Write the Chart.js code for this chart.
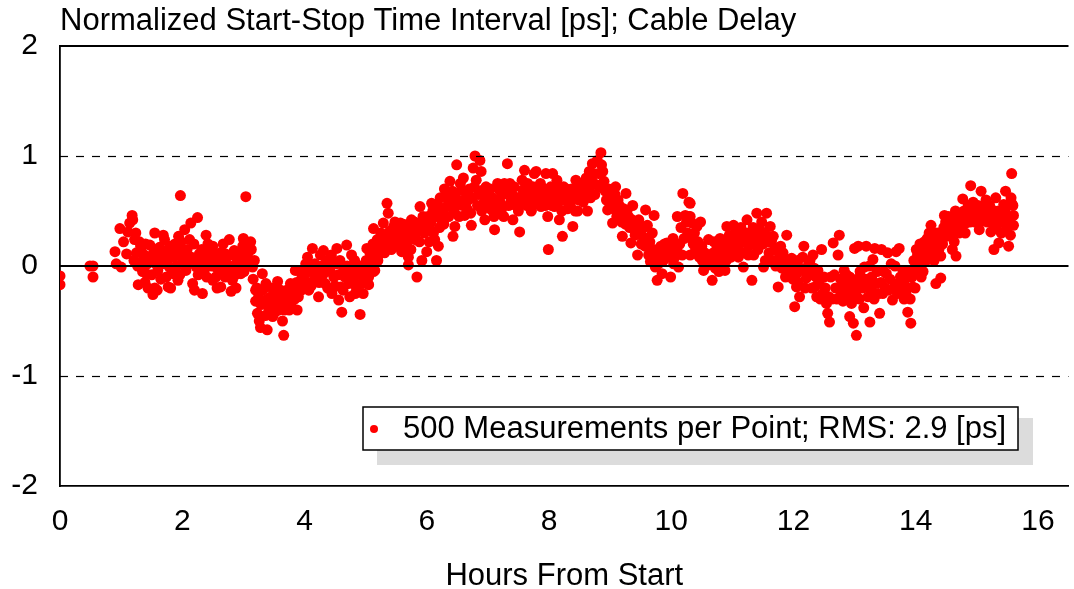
<!DOCTYPE html>
<html>
<head>
<meta charset="utf-8">
<script src="https://cdn.jsdelivr.net/npm/chart.js@4"></script>
<style>
  html, body { margin: 0; padding: 0; background: #fff; }
  #wrap { width: 1074px; height: 589px; }
</style>
</head>
<body>
<div id="wrap"><canvas id="myChart" width="1074" height="589"></canvas></div>
<script>
// chart texts
var chartTitle = 'Normalized Start-Stop Time Interval [ps]; Cable Delay';
var xTitle = 'Hours From Start';
var legendLabel = '500 Measurements per Point; RMS: 2.9 [ps]';

// axis ranges / ticks
var xMin = 0, xMax = 16.5, xStep = 2;
var yMin = -2, yMax = 2, yStep = 1;
var dashedLevels = [1, -1];
var solidLevels = [0];

// [hours, ps], one list per stretch of the run
var pts0to2 = [
  [0.00,-0.09],[0.00,-0.17],[0.49,0.00],[0.54,0.00],[0.54,-0.10],
  [0.90,0.13],[0.92,0.02],[1.00,-0.01],[0.98,0.34],[1.04,0.22],[1.09,0.11],
  [1.11,0.31],[1.14,0.39],[1.18,0.46],[1.19,0.42],[1.22,0.24],[1.28,-0.17],
  [1.30,0.22],[1.33,0.13],[1.36,0.05],[1.41,-0.07],[1.44,-0.20],[1.47,0.19],
  [1.49,0.08],[1.52,-0.26],[1.55,-0.20],[1.55,0.30],[1.57,0.02],[1.63,0.17],
  [1.66,0.07],[1.71,0.24],[1.74,-0.10],[1.77,-0.19],[1.79,-0.01],[1.82,0.11],
  [1.85,-0.07],[1.90,0.14],[1.93,-0.13],[1.97,0.64],[1.98,0.22],
  [1.21,0.05],[1.25,0.12],[1.27,0.00],[1.32,0.18],[1.35,-0.05],[1.38,0.10],
  [1.40,0.20],[1.43,0.02],[1.46,0.08],[1.50,-0.08],[1.53,0.12],[1.58,0.15],
  [1.60,-0.04],[1.62,0.06],[1.65,-0.12],[1.68,0.14],[1.70,0.02],[1.73,0.10],
  [1.76,0.05],[1.80,0.18],[1.83,-0.03],[1.86,0.08],[1.88,0.20],[1.91,0.00],
  [1.95,0.10],[1.96,-0.08],[1.99,0.15],
  [1.24,0.30],[1.39,-0.15],[1.59,-0.22],[1.69,0.28],[1.81,-0.20],[1.94,0.27]
];
var pts2to4 = [
  [2.01,0.05],[2.04,0.33],[2.06,-0.04],[2.12,0.24],[2.14,0.39],[2.17,-0.16],
  [2.23,-0.01],[2.25,0.44],[2.28,0.11],[2.33,-0.25],[2.36,-0.04],[2.42,0.20],
  [2.44,0.05],[2.50,-0.13],[2.50,0.18],[2.52,0.11],[2.55,-0.01],[2.55,0.10],
  [2.55,-0.10],[2.63,-0.19],[2.66,-0.01],[2.71,0.11],[2.77,0.24],[2.80,-0.23],
  [2.82,-0.13],[2.85,0.14],[2.90,0.05],[2.96,-0.07],[2.99,0.18],[3.04,0.63],
  [3.07,0.11],[3.12,0.22],[3.15,-0.01],[3.18,0.05],[3.20,-0.22],[3.20,-0.32],
  [3.23,-0.43],[3.26,-0.50],[3.28,-0.56],[3.31,-0.07],[3.34,-0.34],[3.37,-0.16],
  [3.39,-0.58],[3.42,-0.40],[3.45,-0.28],[3.48,-0.46],[3.53,-0.34],[3.56,-0.14],
  [3.58,-0.40],[3.61,-0.22],[3.64,-0.50],[3.66,-0.63],[3.69,-0.31],[3.75,-0.40],
  [3.77,-0.16],[3.80,-0.28],[3.85,-0.04],[3.88,-0.40],[3.91,-0.19],[3.96,-0.10],
  [2.03,0.10],[2.08,0.15],[2.10,0.02],[2.15,0.08],[2.19,0.20],[2.21,0.05],
  [2.26,-0.08],[2.30,0.05],[2.32,0.15],[2.35,0.00],[2.38,0.08],[2.40,-0.10],
  [2.46,0.12],[2.48,0.00],[2.58,0.05],[2.60,-0.05],[2.62,0.12],[2.68,0.06],
  [2.70,-0.10],[2.73,0.02],[2.75,-0.05],[2.79,0.10],[2.84,0.00],[2.87,-0.08],
  [2.92,0.12],[2.94,-0.02],[2.98,0.05],[3.01,-0.05],[3.03,0.10],[3.09,0.02],
  [3.13,0.15],[3.16,-0.12],[3.22,-0.20],[3.25,-0.28],[3.29,-0.35],[3.32,-0.22],
  [3.36,-0.45],[3.40,-0.30],[3.44,-0.38],[3.47,-0.20],[3.50,-0.28],[3.52,-0.42],
  [3.55,-0.30],[3.60,-0.35],[3.63,-0.25],[3.67,-0.40],[3.71,-0.22],[3.73,-0.33],
  [3.78,-0.36],[3.82,-0.22],[3.84,-0.30],[3.87,-0.15],[3.90,-0.28],[3.93,-0.05],
  [3.95,-0.22],[3.98,-0.15],
  [2.20,-0.22],[2.39,0.28],[2.57,-0.20],[2.67,0.20],[2.88,-0.20],[3.00,0.25]
];
var pts4to6 = [
  [4.02,0.02],[4.07,-0.22],[4.13,0.16],[4.15,-0.13],[4.21,-0.04],[4.23,-0.28],
  [4.26,0.10],[4.31,0.14],[4.34,-0.16],[4.40,0.02],[4.45,-0.25],[4.48,-0.10],
  [4.53,0.16],[4.56,-0.31],[4.59,-0.19],[4.61,-0.42],[4.64,-0.04],[4.69,0.19],
  [4.72,-0.16],[4.77,0.10],[4.83,-0.25],[4.86,-0.04],[4.91,-0.44],[4.94,-0.16],
  [4.99,0.02],[5.02,0.16],[5.05,-0.10],[5.05,-0.17],[5.10,0.08],[5.10,0.12],
  [5.13,0.34],[5.13,-0.05],[5.15,-0.04],[5.18,0.22],[5.19,0.24],[5.21,0.10],
  [5.27,0.16],[5.29,0.39],[5.35,0.57],[5.37,0.48],[5.43,0.24],[5.46,0.36],
  [5.51,0.18],[5.57,0.39],[5.59,0.13],[5.65,0.30],[5.70,0.08],[5.70,0.01],
  [5.75,0.42],[5.81,0.24],[5.84,-0.10],[5.86,0.33],[5.89,0.54],[5.92,0.05],
  [5.94,0.45],
  [4.00,-0.08],[4.04,-0.15],[4.05,0.08],[4.09,-0.05],[4.11,-0.18],[4.17,0.02],
  [4.19,-0.08],[4.24,-0.15],[4.28,0.00],[4.30,-0.08],[4.36,0.05],[4.38,-0.20],
  [4.42,-0.05],[4.44,0.10],[4.50,-0.18],[4.52,0.02],[4.55,-0.08],[4.58,0.05],
  [4.63,-0.22],[4.66,-0.10],[4.70,0.00],[4.74,-0.28],[4.76,-0.05],[4.80,-0.12],
  [4.82,0.05],[4.85,-0.20],[4.89,0.00],[4.92,-0.08],[4.96,-0.25],[4.98,-0.05],
  [5.01,0.05],[5.04,0.00],[5.07,0.12],[5.08,0.02],[5.12,0.20],[5.16,0.15],
  [5.20,0.05],[5.23,0.18],[5.25,0.30],[5.28,0.22],[5.31,0.12],[5.33,0.28],
  [5.38,0.20],[5.40,0.32],[5.42,0.15],[5.45,0.26],[5.48,0.40],[5.50,0.30],
  [5.53,0.22],[5.55,0.33],[5.60,0.25],[5.62,0.38],[5.67,0.20],[5.68,0.35],
  [5.72,0.28],[5.74,0.15],[5.78,0.35],[5.80,0.40],[5.83,0.30],[5.88,0.22],
  [5.91,0.38],[5.96,0.30],[5.98,0.42]
];
var pts6to8 = [
  [6.00,0.13],[6.05,0.34],[6.08,0.57],[6.13,0.24],[6.16,0.05],[6.19,0.18],
  [6.24,0.42],[6.29,0.70],[6.32,0.54],[6.38,0.77],[6.43,0.27],[6.46,0.36],
  [6.49,0.92],[6.51,0.57],[6.57,0.69],[6.62,0.46],[6.68,0.60],[6.73,0.37],
  [6.76,0.89],[6.79,1.00],[6.81,0.78],[6.87,0.96],[6.89,0.86],[6.92,0.69],
  [6.95,0.42],[7.00,0.63],[7.06,0.51],[7.11,0.33],[7.14,0.60],[7.19,0.69],
  [7.22,0.51],[7.27,0.75],[7.32,0.93],[7.38,0.60],[7.41,0.42],[7.46,0.55],
  [7.52,0.31],[7.57,0.69],[7.60,0.87],[7.65,0.75],[7.71,0.50],[7.71,0.51],
  [7.76,0.84],[7.79,0.66],[7.79,0.86],[7.84,0.69],[7.87,0.54],[7.95,0.84],
  [7.98,0.45],[7.99,0.15],
  [6.02,0.45],[6.04,0.22],[6.07,0.40],[6.10,0.50],[6.11,0.30],[6.15,0.45],
  [6.18,0.55],[6.21,0.35],[6.22,0.62],[6.26,0.50],[6.28,0.38],[6.31,0.45],
  [6.34,0.62],[6.36,0.45],[6.40,0.55],[6.42,0.68],[6.45,0.50],[6.48,0.62],
  [6.53,0.45],[6.55,0.75],[6.59,0.55],[6.60,0.80],[6.64,0.62],[6.66,0.52],
  [6.70,0.70],[6.72,0.48],[6.75,0.62],[6.78,0.72],[6.83,0.55],[6.85,0.65],
  [6.90,0.50],[6.94,0.58],[6.97,0.72],[7.02,0.55],[7.04,0.70],[7.08,0.62],
  [7.10,0.45],[7.13,0.52],[7.16,0.75],[7.20,0.58],[7.24,0.65],[7.26,0.45],
  [7.30,0.68],[7.34,0.55],[7.36,0.75],[7.40,0.65],[7.43,0.72],[7.48,0.62],
  [7.50,0.50],[7.54,0.58],[7.56,0.78],[7.62,0.62],[7.64,0.55],[7.68,0.70],
  [7.70,0.62],[7.74,0.72],[7.78,0.58],[7.82,0.62],[7.86,0.75],[7.89,0.62],
  [7.92,0.70],[7.94,0.55],[7.97,0.65]
];
var pts8to10 = [
  [8.06,0.84],[8.09,0.54],[8.14,0.71],[8.17,0.42],[8.22,0.27],[8.25,0.63],
  [8.30,0.52],[8.39,0.36],[8.44,0.78],[8.47,0.50],[8.52,0.64],[8.58,0.74],
  [8.63,0.50],[8.66,0.86],[8.71,0.93],[8.77,0.74],[8.79,0.96],[8.85,1.03],
  [8.88,0.86],[8.90,0.77],[8.96,0.51],[9.01,0.69],[9.04,0.39],[9.09,0.72],
  [9.15,0.55],[9.20,0.27],[9.23,0.42],[9.26,0.66],[9.28,0.51],[9.34,0.21],
  [9.37,0.55],[9.39,0.33],[9.45,0.10],[9.47,0.42],[9.53,0.27],[9.58,0.51],
  [9.61,0.37],[9.66,0.04],[9.69,0.30],[9.72,0.46],[9.74,-0.01],[9.77,-0.13],
  [9.83,0.18],[9.85,-0.07],[9.91,0.12],[9.93,0.21],[9.99,-0.10],
  [8.01,0.62],[8.03,0.72],[8.05,0.55],[8.08,0.68],[8.11,0.60],[8.13,0.78],
  [8.16,0.58],[8.19,0.66],[8.21,0.50],[8.24,0.72],[8.27,0.60],[8.29,0.70],
  [8.32,0.62],[8.35,0.55],[8.37,0.70],[8.41,0.62],[8.43,0.50],[8.46,0.68],
  [8.49,0.60],[8.50,0.75],[8.55,0.68],[8.56,0.58],[8.60,0.65],[8.61,0.80],
  [8.65,0.70],[8.68,0.62],[8.70,0.78],[8.73,0.84],[8.75,0.65],[8.81,0.84],
  [8.83,0.72],[8.86,0.92],[8.92,0.68],[8.94,0.60],[8.98,0.70],[9.00,0.55],
  [9.03,0.62],[9.06,0.52],[9.08,0.65],[9.11,0.45],[9.13,0.60],[9.17,0.48],
  [9.19,0.40],[9.22,0.52],[9.25,0.38],[9.30,0.45],[9.32,0.35],[9.36,0.42],
  [9.41,0.28],[9.43,0.38],[9.49,0.30],[9.51,0.20],[9.55,0.35],[9.57,0.18],
  [9.60,0.25],[9.63,0.10],[9.65,0.22],[9.68,0.05],[9.71,0.15],[9.76,0.08],
  [9.79,0.02],[9.81,0.10],[9.87,0.05],[9.89,0.20],[9.95,0.08],[9.97,0.15]
];
var pts10to12 = [
  [10.04,0.02],[10.07,0.18],[10.10,0.45],[10.12,-0.01],[10.18,0.10],[10.19,0.66],
  [10.23,0.46],[10.29,0.58],[10.31,0.57],[10.31,0.45],[10.32,0.27],[10.34,0.39],
  [10.34,0.25],[10.31,0.10],[10.40,0.15],[10.42,0.36],[10.48,0.40],[10.48,0.16],
  [10.53,-0.04],[10.59,0.08],[10.61,0.24],[10.67,-0.13],[10.72,-0.02],[10.75,0.16],
  [10.80,0.25],[10.83,0.05],[10.88,-0.04],[10.91,0.36],[10.96,0.15],[11.02,0.37],
  [11.07,0.24],[11.10,0.08],[11.15,0.28],[11.18,-0.01],[11.24,0.42],[11.27,0.18],
  [11.32,-0.13],[11.35,0.10],[11.40,0.48],[11.45,0.33],[11.51,-0.01],[11.54,0.05],
  [11.56,0.48],[11.62,0.36],[11.67,0.27],[11.73,0.05],[11.75,-0.19],[11.81,-0.02],
  [11.83,0.12],[11.89,0.28],[11.91,-0.08],[11.97,0.07],
  [10.01,0.10],[10.03,0.25],[10.06,0.08],[10.09,0.15],[10.14,0.20],[10.16,0.35],
  [10.21,0.25],[10.25,0.40],[10.27,0.30],[10.29,0.45],[10.36,0.20],[10.38,0.30],
  [10.44,0.22],[10.46,0.08],[10.50,0.18],[10.51,0.05],[10.55,0.12],[10.57,0.00],
  [10.63,0.10],[10.65,0.02],[10.69,0.12],[10.70,0.22],[10.74,0.05],[10.77,0.10],
  [10.78,-0.05],[10.82,0.15],[10.85,0.22],[10.87,0.10],[10.90,0.05],[10.93,0.20],
  [10.95,0.28],[10.98,0.08],[11.00,0.22],[11.04,0.15],[11.05,0.30],[11.09,0.18],
  [11.12,0.20],[11.14,0.35],[11.17,0.12],[11.20,0.25],[11.22,0.30],[11.26,0.10],
  [11.29,0.28],[11.30,0.20],[11.34,0.35],[11.37,0.22],[11.38,0.30],[11.42,0.15],
  [11.44,0.25],[11.48,0.40],[11.50,0.20],[11.53,0.30],[11.58,0.22],[11.60,0.12],
  [11.64,0.22],[11.66,0.05],[11.69,0.15],[11.71,0.00],[11.77,0.08],[11.79,0.18],
  [11.85,0.02],[11.87,-0.10],[11.93,0.05],[11.95,-0.05],[11.99,-0.12]
];
var pts12to14 = [
  [12.02,-0.37],[12.05,-0.19],[12.10,-0.28],[12.13,-0.04],[12.17,0.18],[12.21,-0.11],
  [12.27,0.05],[12.32,0.10],[12.35,-0.19],[12.40,-0.04],[12.46,0.15],[12.48,-0.25],
  [12.54,-0.34],[12.56,-0.43],[12.59,-0.51],[12.65,0.21],[12.67,-0.08],[12.73,0.10],
  [12.75,0.28],[12.78,-0.25],[12.83,-0.04],[12.89,-0.16],[12.92,-0.46],[12.92,-0.10],
  [12.95,-0.34],[12.95,-0.31],[12.98,-0.52],[13.00,0.16],[13.03,-0.63],[13.06,0.18],
  [13.11,-0.19],[13.16,-0.01],[13.19,0.18],[13.22,-0.28],[13.25,-0.51],[13.30,0.06],
  [13.33,0.16],[13.35,-0.16],[13.41,-0.43],[13.44,0.15],[13.46,-0.25],[13.52,-0.07],
  [13.54,0.12],[13.60,0.02],[13.62,-0.31],[13.68,0.13],[13.71,-0.16],[13.73,0.16],
  [13.79,-0.04],[13.84,-0.25],[13.87,-0.42],[13.92,-0.52],[13.95,-0.19],[13.98,-0.04],
  [12.00,0.00],[12.04,-0.08],[12.07,0.05],[12.08,-0.15],[12.12,-0.02],[12.15,0.08],
  [12.19,-0.20],[12.23,-0.05],[12.25,0.02],[12.29,-0.08],[12.30,-0.20],[12.34,-0.02],
  [12.37,-0.10],[12.38,-0.28],[12.42,-0.15],[12.44,-0.30],[12.50,-0.10],[12.52,-0.20],
  [12.58,-0.28],[12.61,-0.10],[12.63,-0.30],[12.69,-0.20],[12.71,-0.30],[12.77,-0.12],
  [12.80,-0.20],[12.81,-0.32],[12.85,-0.25],[12.87,-0.08],[12.90,-0.22],[12.97,-0.18],
  [13.02,-0.25],[13.04,-0.12],[13.08,-0.30],[13.09,-0.05],[13.13,-0.20],[13.15,-0.38],
  [13.18,-0.12],[13.21,-0.18],[13.24,0.00],[13.27,-0.22],[13.28,-0.10],[13.32,-0.30],
  [13.37,-0.05],[13.39,-0.25],[13.43,-0.15],[13.48,-0.05],[13.50,-0.20],[13.56,-0.22],
  [13.58,-0.12],[13.64,-0.20],[13.66,0.00],[13.70,-0.25],[13.75,-0.10],[13.77,-0.20],
  [13.81,-0.30],[13.83,-0.12],[13.86,-0.20],[13.89,-0.05],[13.91,-0.30],[13.94,-0.10],
  [13.97,0.05],[13.99,-0.20]
];
var pts14to16 = [
  [14.03,0.10],[14.09,-0.10],[14.14,0.22],[14.17,0.05],[14.22,0.30],[14.25,0.37],
  [14.28,0.12],[14.33,-0.16],[14.36,0.18],[14.41,-0.11],[14.41,0.09],[14.47,0.46],
  [14.50,0.27],[14.55,0.37],[14.60,0.15],[14.63,0.22],[14.66,0.09],[14.71,0.30],
  [14.74,0.46],[14.77,0.61],[14.82,0.39],[14.88,0.49],[14.90,0.73],[14.96,0.45],
  [14.98,0.52],[15.04,0.33],[15.07,0.68],[15.09,0.48],[15.15,0.60],[15.17,0.40],
  [15.23,0.31],[15.25,0.51],[15.28,0.15],[15.31,0.62],[15.33,0.37],[15.36,0.21],
  [15.41,0.45],[15.44,0.56],[15.47,0.68],[15.52,0.18],[15.55,0.28],[15.57,0.84],
  [15.57,0.57],[15.60,0.46],[15.60,0.37],
  [14.00,-0.05],[14.01,0.15],[14.05,0.00],[14.07,0.20],[14.11,0.08],[14.12,-0.05],
  [14.16,0.15],[14.19,0.25],[14.20,0.10],[14.24,0.18],[14.27,0.25],[14.30,0.05],
  [14.32,0.22],[14.35,0.30],[14.38,0.15],[14.40,0.25],[14.44,0.20],[14.46,0.35],
  [14.49,0.40],[14.52,0.30],[14.54,0.45],[14.57,0.28],[14.59,0.40],[14.62,0.35],
  [14.65,0.50],[14.68,0.40],[14.70,0.45],[14.73,0.35],[14.76,0.42],[14.79,0.50],
  [14.81,0.30],[14.84,0.45],[14.86,0.55],[14.89,0.40],[14.92,0.45],[14.94,0.58],
  [14.97,0.40],[15.00,0.48],[15.02,0.55],[15.05,0.40],[15.08,0.52],[15.11,0.42],
  [15.13,0.55],[15.16,0.48],[15.19,0.45],[15.21,0.55],[15.24,0.40],[15.27,0.48],
  [15.29,0.35],[15.32,0.45],[15.35,0.50],[15.38,0.40],[15.40,0.30],[15.43,0.42],
  [15.46,0.50],[15.49,0.35],[15.51,0.45],[15.54,0.40],[15.56,0.62],[15.59,0.55]
];

var allPts = [].concat(pts0to2, pts2to4, pts4to6, pts6to8, pts8to10, pts10to12, pts12to14, pts14to16);

var FONT = "'Liberation Sans', Arial, Helvetica, sans-serif";

// dashed / solid reference lines, frame top, title and the shadowed legend box
var decorPlugin = {
  id: 'decor',
  afterDatasetsDraw: function(chart) {
    var ctx = chart.ctx, a = chart.chartArea, ys = chart.scales.y;
    ctx.save();
    ctx.strokeStyle = '#000';
    ctx.lineWidth = 1.2;
    ctx.setLineDash([8, 8]);
    dashedLevels.forEach(function(v) {
      var py = Math.round(ys.getPixelForValue(v)) + 0.5;
      ctx.beginPath(); ctx.moveTo(a.left, py); ctx.lineTo(a.right, py); ctx.stroke();
    });
    ctx.setLineDash([]);
    ctx.lineWidth = 1.8;
    solidLevels.forEach(function(v) {
      var py = Math.round(ys.getPixelForValue(v));
      ctx.beginPath(); ctx.moveTo(a.left, py); ctx.lineTo(a.right, py); ctx.stroke();
    });
    // top frame
    ctx.beginPath(); ctx.moveTo(a.left, a.top); ctx.lineTo(a.right, a.top); ctx.stroke();
    ctx.restore();
  },
  afterDraw: function(chart) {
    var ctx = chart.ctx, a = chart.chartArea;
    ctx.save();
    // title
    ctx.fillStyle = '#000';
    ctx.font = '31px ' + FONT;
    ctx.textBaseline = 'alphabetic';
    ctx.textAlign = 'left';
    ctx.fillText(chartTitle, a.left, 30);
    // legend
    var bx = 363, by = 407, bw = 655, bh = 43;
    ctx.fillStyle = '#dcdcdc';
    ctx.fillRect(bx + 14, by + 11, bw + 1, bh + 4);
    ctx.fillStyle = '#fff';
    ctx.fillRect(bx, by, bw, bh);
    ctx.strokeStyle = '#000';
    ctx.lineWidth = 1.5;
    ctx.strokeRect(bx, by, bw, bh);
    ctx.fillStyle = '#ff0000';
    ctx.beginPath(); ctx.arc(bx + 11, by + 22, 4, 0, Math.PI * 2); ctx.fill();
    ctx.fillStyle = '#000';
    ctx.textBaseline = 'middle';
    ctx.fillText(legendLabel, bx + 40, by + 22);
    ctx.restore();
  }
};

var ctx = document.getElementById('myChart').getContext('2d');
var chartInstance = new Chart(ctx, {
  type: 'scatter',
  data: {
    datasets: [{
      label: legendLabel,
      data: allPts.map(function(p) { return { x: p[0], y: p[1] }; }),
      backgroundColor: '#ff0000',
      borderWidth: 0,
      pointRadius: 5.5,
      pointHoverRadius: 5.5
    }]
  },
  options: {
    responsive: false,
    animation: false,
    events: [],
    layout: { padding: { top: 46, right: 0, left: 0, bottom: 0 } },
    plugins: {
      legend: { display: false },
      title: { display: false },
      tooltip: { enabled: false }
    },
    scales: {
      x: {
        type: 'linear',
        min: xMin, max: xMax,
        grid: { display: false, drawTicks: false },
        border: { display: true, color: '#000', width: 1.8 },
        ticks: { stepSize: xStep, includeBounds: false, padding: 18, color: '#000', font: { family: FONT, size: 30 } },
        title: { display: true, text: xTitle, color: '#000', font: { family: FONT, size: 31, lineHeight: 1 }, padding: { top: 0, bottom: -3 } },
        afterFit: function(scale) { scale.height = 103; }
      },
      y: {
        type: 'linear',
        min: yMin, max: yMax,
        grid: { display: false, drawTicks: false },
        border: { display: true, color: '#000', width: 1.8 },
        ticks: { stepSize: yStep, padding: 22, color: '#000', font: { family: FONT, size: 30 } },
        afterFit: function(scale) { scale.width = 60; }
      }
    }
  },
  plugins: [decorPlugin]
});
</script>
</body>
</html>
